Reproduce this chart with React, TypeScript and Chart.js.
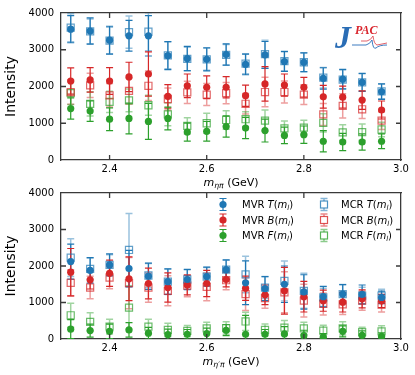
import React, { useEffect, useRef } from "react";
import { Chart, registerables } from "chart.js";

Chart.register(...registerables);

// ---------- data ----------
const massBins = [2.32, 2.36, 2.4, 2.44, 2.48, 2.52, 2.56, 2.6, 2.64, 2.68, 2.72, 2.76, 2.8, 2.84, 2.88, 2.92, 2.96];
const xTickValues = [2.4, 2.6, 2.8, 3.0];
const yTickValues = [0, 1000, 2000, 3000, 4000];
const xRange = [2.3, 3.0];
const yRange = [0, 4000];
const yTitle = "Intensity";

// top panel: eta pi
const topMVR_T = [3560, 3510, 3260, 3380, 3380, 2840, 2760, 2740, 2870, 2600, 2860, 2680, 2660, 2220, 2200, 2110, 1860];
const topMVR_T_err = [370, 355, 380, 420, 550, 380, 330, 315, 290, 280, 365, 267, 253, 290, 267, 245, 213];
const topMCR_T = [3600, 3500, 3250, 3480, 3490, 2850, 2750, 2740, 2860, 2620, 2880, 2690, 2660, 2240, 2190, 2110, 1870];
const topMCR_T_err = [380, 340, 360, 440, 520, 370, 320, 300, 280, 270, 380, 270, 260, 280, 260, 240, 200];
const topMVR_B = [2150, 2180, 2150, 2260, 2340, 1730, 2020, 1980, 1980, 1750, 2070, 2040, 1980, 1720, 1710, 1630, 1360];
const topMVR_B_err = [355, 333, 365, 400, 600, 320, 320, 311, 290, 290, 470, 300, 267, 310, 300, 250, 245];
const topMCR_B = [1850, 2030, 1760, 1880, 2020, 1660, 1840, 1780, 1820, 1530, 1850, 1850, 1780, 1240, 1470, 1380, 1070];
const topMCR_B_err = [330, 330, 320, 360, 400, 300, 300, 300, 290, 280, 400, 300, 270, 300, 330, 250, 240];
const topMVR_F = [1400, 1330, 1110, 1130, 1050, 1130, 760, 780, 910, 870, 800, 670, 690, 510, 490, 490, 510];
const topMVR_F_err = [290, 280, 310, 420, 490, 310, 245, 267, 290, 290, 310, 222, 235, 290, 235, 222, 200];
const topMCR_F = [1820, 1530, 1580, 1620, 1490, 1240, 930, 1000, 1090, 1110, 1070, 860, 880, 1010, 750, 760, 830];
const topMCR_F_err = [310, 330, 290, 310, 270, 310, 220, 270, 250, 200, 290, 200, 200, 250, 210, 220, 200];

// bottom panel: eta' pi
const botMVR_T = [2120, 1880, 2030, 1930, 1720, 1570, 1630, 1710, 1900, 1540, 1380, 1500, 1290, 1160, 1230, 1220, 1140];
const botMVR_T_err = [480, 350, 300, 500, 360, 350, 280, 260, 270, 600, 330, 500, 470, 280, 260, 260, 170];
const botMCR_T = [2230, 1920, 2030, 2440, 1740, 1570, 1630, 1710, 1900, 1770, 1410, 1590, 1320, 1140, 1230, 1190, 1190];
const botMCR_T_err = [520, 300, 280, 1000, 330, 350, 270, 250, 260, 500, 300, 550, 480, 250, 260, 230, 170];
const botMVR_B = [1830, 1620, 1800, 1650, 1520, 1410, 1480, 1520, 1630, 1390, 1210, 1320, 1160, 1050, 1010, 1100, 1040];
const botMVR_B_err = [650, 250, 360, 600, 420, 400, 270, 360, 200, 330, 270, 640, 420, 290, 270, 245, 180];
const botMCR_B = [1540, 1410, 1680, 1530, 1410, 1320, 1460, 1430, 1610, 1230, 1120, 1280, 1050, 960, 950, 1050, 940];
const botMCR_B_err = [360, 310, 300, 700, 400, 410, 300, 380, 260, 450, 280, 560, 450, 300, 280, 260, 200];
const botMVR_F = [270, 230, 210, 250, 160, 120, 130, 150, 240, 130, 130, 140, 90, 50, 210, 100, 70];
const botMVR_F_err = [260, 180, 200, 200, 160, 150, 130, 150, 150, 520, 130, 200, 150, 100, 150, 120, 100];
const botMCR_F = [650, 470, 340, 860, 340, 250, 220, 290, 300, 480, 250, 310, 290, 230, 290, 190, 210];
const botMCR_F_err = [330, 250, 200, 600, 200, 180, 150, 170, 170, 250, 160, 200, 170, 150, 180, 130, 150];

// ---------- style ----------
const FONT = '"DejaVu Sans", sans-serif';
const FRAME = "#3a3a3a";
const COLORS: Record<string, string> = { T: "31,119,180", B: "214,39,40", F: "44,160,44" };
const solid = (k: string) => `rgb(${COLORS[k]})`;
const faded = (k: string, a: number) => `rgba(${COLORS[k]},${a})`;

type Run = { t: string; it?: boolean; sub?: boolean };

function drawRuns(ctx: CanvasRenderingContext2D, runs: Run[], x: number, y: number, size: number, align: "left" | "center") {
  const fontFor = (r: Run) => `${r.it ? "italic " : ""}${r.sub ? size * 0.7 : size}px ${FONT}`;
  let total = 0;
  const widths = runs.map((r) => {
    ctx.font = fontFor(r);
    const w = ctx.measureText(r.t).width;
    total += w;
    return w;
  });
  let cx = align === "center" ? x - total / 2 : x;
  ctx.textAlign = "left";
  ctx.textBaseline = "alphabetic";
  runs.forEach((r, i) => {
    ctx.font = fontFor(r);
    ctx.fillText(r.t, cx, r.sub ? y + size * 0.22 : y);
    cx += widths[i];
  });
}

type Series = { kind: "MVR" | "MCR"; amp: "T" | "B" | "F"; values: number[]; errors: number[] };
type Panel = { series: Series[]; xSub: string; padTop: number; xAxisHeight: number; legend: boolean; logo: boolean };

const errorBarPlugin = {
  id: "errorBars",
  beforeDatasetsDraw(chart: any) {
    const { ctx, chartArea } = chart;
    const xs = chart.scales.x;
    const ys = chart.scales.y;
    ctx.save();
    ctx.beginPath();
    ctx.rect(chartArea.left, chartArea.top, chartArea.right - chartArea.left, chartArea.bottom - chartArea.top);
    ctx.clip();
    const order = chart.data.datasets
      .map((d: any, i: number) => ({ d, i }))
      .sort((a: any, b: any) => (a.d.kind === b.d.kind ? 0 : a.d.kind === "MCR" ? -1 : 1));
    order.forEach(({ d }: any) => {
      ctx.strokeStyle = d.errColor;
      ctx.lineWidth = d.kind === "MCR" ? 1.5 : 1.2;
      d.data.forEach((p: any, j: number) => {
        const e = d.errors[j];
        const px = xs.getPixelForValue(p.x);
        const yt = ys.getPixelForValue(p.y + e);
        const yb = ys.getPixelForValue(p.y - e);
        ctx.beginPath();
        ctx.moveTo(px, yt);
        ctx.lineTo(px, yb);
        ctx.moveTo(px - 3.5, yt);
        ctx.lineTo(px + 3.5, yt);
        ctx.moveTo(px - 3.5, yb);
        ctx.lineTo(px + 3.5, yb);
        ctx.stroke();
      });
    });
    ctx.restore();
  },
};

const framePlugin = {
  id: "frameDecor",
  afterDraw(chart: any, _args: any, opts: any) {
    const { ctx, chartArea: a } = chart;
    const xs = chart.scales.x;
    const ys = chart.scales.y;
    ctx.save();
    const l = a.left;
    const r = a.right;
    const t = a.top;
    const b = a.bottom;
    // inward tick marks on all four sides
    const L = 5;
    ctx.strokeStyle = FRAME;
    ctx.lineWidth = 1.3;
    ctx.beginPath();
    xTickValues.forEach((v) => {
      const px = xs.getPixelForValue(v);
      if (px <= l + 1 || px >= r - 1) return;
      ctx.moveTo(px, b);
      ctx.lineTo(px, b - L);
      ctx.moveTo(px, t);
      ctx.lineTo(px, t + L);
    });
    yTickValues.forEach((v) => {
      const py = ys.getPixelForValue(v);
      if (py <= t + 1 || py >= b - 1) return;
      ctx.moveTo(l, py);
      ctx.lineTo(l + L, py);
      ctx.moveTo(r, py);
      ctx.lineTo(r - L, py);
    });
    ctx.stroke();

    // axis titles
    ctx.fillStyle = "#000";
    drawRuns(ctx, [{ t: "m", it: true }, { t: opts.xSub, it: true, sub: true }, { t: " (GeV)" }], (l + r) / 2, b + 26, 11, "center");
    ctx.save();
    ctx.translate(11, (t + b) / 2);
    ctx.rotate(-Math.PI / 2);
    ctx.font = `14px ${FONT}`;
    ctx.textAlign = "center";
    ctx.textBaseline = "middle";
    ctx.fillText(yTitle, 0, 0);
    ctx.restore();

    if (opts.legend) {
      const rows = [t + 11.5, t + 27, t + 42.5];
      const cols = [
        { kind: "MVR", mx: r - 178, tx: r - 159 },
        { kind: "MCR", mx: r - 77, tx: r - 60 },
      ];
      const amps = ["T", "B", "F"];
      cols.forEach((c) => {
        amps.forEach((amp, ri) => {
          const y = rows[ri];
          ctx.strokeStyle = c.kind === "MVR" ? solid(amp) : faded(amp, 0.55);
          ctx.lineWidth = c.kind === "MVR" ? 1.2 : 1.5;
          ctx.beginPath();
          ctx.moveTo(c.mx, y - 6);
          ctx.lineTo(c.mx, y + 6);
          ctx.moveTo(c.mx - 3.5, y - 6);
          ctx.lineTo(c.mx + 3.5, y - 6);
          ctx.moveTo(c.mx - 3.5, y + 6);
          ctx.lineTo(c.mx + 3.5, y + 6);
          ctx.stroke();
          if (c.kind === "MVR") {
            ctx.fillStyle = solid(amp);
            ctx.beginPath();
            ctx.arc(c.mx, y, 3.6, 0, Math.PI * 2);
            ctx.fill();
          } else {
            ctx.fillStyle = "#fff";
            ctx.fillRect(c.mx - 3.5, y - 3.5, 7, 7);
            ctx.strokeStyle = faded(amp, 0.8);
            ctx.lineWidth = 1.2;
            ctx.strokeRect(c.mx - 3.5, y - 3.5, 7, 7);
          }
          ctx.fillStyle = "#000";
          drawRuns(ctx, [{ t: c.kind + " " }, { t: amp, it: true }, { t: "(" }, { t: "m", it: true }, { t: "l", it: true, sub: true }, { t: ")" }], c.tx, y + 3.5, 10, "left");
        });
      });
    }

    if (opts.logo) {
      ctx.fillStyle = "#2a6db5";
      ctx.font = 'italic bold 32px "Liberation Serif", serif';
      ctx.textAlign = "left";
      ctx.textBaseline = "alphabetic";
      ctx.fillText("J", r - 66, t + 35);
      ctx.fillStyle = "#d9262e";
      ctx.font = 'italic bold 12px "Liberation Serif", serif';
      ctx.fillText("PAC", r - 46, t + 21);
      ctx.lineWidth = 1;
      ctx.strokeStyle = "rgba(220,60,70,0.8)";
      ctx.beginPath();
      ctx.moveTo(r - 40, t + 28);
      ctx.lineTo(r - 34, t + 28);
      ctx.quadraticCurveTo(r - 30, t + 27, r - 28, t + 23);
      ctx.quadraticCurveTo(r - 27, t + 31, r - 24, t + 32);
      ctx.lineTo(r - 14, t + 30);
      ctx.stroke();
      ctx.strokeStyle = "rgba(40,110,185,0.9)";
      ctx.beginPath();
      ctx.moveTo(r - 49, t + 32);
      ctx.lineTo(r - 35, t + 32);
      ctx.quadraticCurveTo(r - 31, t + 31, r - 29, t + 27);
      ctx.quadraticCurveTo(r - 28, t + 37, r - 25, t + 35);
      ctx.quadraticCurveTo(r - 22, t + 32, r - 14, t + 32);
      ctx.stroke();
    }
    ctx.restore();
  },
};

function buildChart(canvas: HTMLCanvasElement, panel: Panel) {
  const mvr = panel.series.filter((s) => s.kind === "MVR");
  const mcr = panel.series.filter((s) => s.kind === "MCR");
  const datasets = [...mvr, ...mcr].map((s) => ({
    label: `${s.kind} ${s.amp}`,
    kind: s.kind,
    errors: s.errors,
    errColor: s.kind === "MVR" ? solid(s.amp) : faded(s.amp, 0.45),
    data: massBins.map((x, i) => ({ x, y: s.values[i] })),
    pointStyle: s.kind === "MVR" ? "circle" : "rect",
    pointRadius: s.kind === "MVR" ? 3.6 : 5,
    backgroundColor: s.kind === "MVR" ? solid(s.amp) : "rgba(0,0,0,0)",
    borderColor: s.kind === "MVR" ? solid(s.amp) : faded(s.amp, 0.7),
    borderWidth: s.kind === "MVR" ? 0 : 1.2,
    showLine: false,
  }));
  const tickFont = { family: FONT, size: 10 };
  const frameBorder = { display: true, color: FRAME, width: 1.3 };
  const noGrid = { display: false, drawTicks: false };
  return new Chart(canvas, {
    type: "scatter",
    data: { datasets } as any,
    plugins: [errorBarPlugin, framePlugin],
    options: {
      animation: false,
      responsive: false,
      events: [],
      layout: { padding: { top: panel.padTop, right: 14, left: 0, bottom: 0 } },
      plugins: {
        legend: { display: false },
        tooltip: { enabled: false },
        frameDecor: { xSub: panel.xSub, legend: panel.legend, logo: panel.logo },
      } as any,
      scales: {
        x: {
          type: "linear",
          position: "bottom",
          min: xRange[0],
          max: xRange[1],
          grid: noGrid,
          border: frameBorder,
          afterBuildTicks: (s: any) => {
            s.ticks = xTickValues.map((v) => ({ value: v }));
          },
          afterFit: (s: any) => {
            s.height = panel.xAxisHeight;
          },
          ticks: { padding: 3, font: tickFont, color: "#000", maxRotation: 0, autoSkip: false, callback: (v: any) => Number(v).toFixed(1) },
        },
        xTop: {
          type: "linear",
          position: "top",
          min: xRange[0],
          max: xRange[1],
          grid: noGrid,
          border: frameBorder,
          ticks: { display: false },
          afterFit: (s: any) => {
            s.height = 0;
          },
        },
        y: {
          type: "linear",
          position: "left",
          min: yRange[0],
          max: yRange[1],
          grid: noGrid,
          border: frameBorder,
          afterBuildTicks: (s: any) => {
            s.ticks = yTickValues.map((v) => ({ value: v }));
          },
          afterFit: (s: any) => {
            s.width = 61;
          },
          ticks: { padding: 7, font: tickFont, color: "#000", autoSkip: false, callback: (v: any) => String(v) },
        },
        yRight: {
          type: "linear",
          position: "right",
          min: yRange[0],
          max: yRange[1],
          grid: noGrid,
          border: frameBorder,
          ticks: { display: false },
          afterFit: (s: any) => {
            s.width = 0;
          },
        },
      },
    } as any,
  });
}

const topPanel: Panel = {
  series: [
    { kind: "MVR", amp: "T", values: topMVR_T, errors: topMVR_T_err },
    { kind: "MVR", amp: "B", values: topMVR_B, errors: topMVR_B_err },
    { kind: "MVR", amp: "F", values: topMVR_F, errors: topMVR_F_err },
    { kind: "MCR", amp: "T", values: topMCR_T, errors: topMCR_T_err },
    { kind: "MCR", amp: "B", values: topMCR_B, errors: topMCR_B_err },
    { kind: "MCR", amp: "F", values: topMCR_F, errors: topMCR_F_err },
  ],
  xSub: "ηπ",
  padTop: 10,
  xAxisHeight: 32,
  legend: false,
  logo: true,
};

const bottomPanel: Panel = {
  series: [
    { kind: "MVR", amp: "T", values: botMVR_T, errors: botMVR_T_err },
    { kind: "MVR", amp: "B", values: botMVR_B, errors: botMVR_B_err },
    { kind: "MVR", amp: "F", values: botMVR_F, errors: botMVR_F_err },
    { kind: "MCR", amp: "T", values: botMCR_T, errors: botMCR_T_err },
    { kind: "MCR", amp: "B", values: botMCR_B, errors: botMCR_B_err },
    { kind: "MCR", amp: "F", values: botMCR_F, errors: botMCR_F_err },
  ],
  xSub: "η′π",
  padTop: 10,
  xAxisHeight: 36,
  legend: true,
  logo: false,
};

export default function App() {
  const topRef = useRef<HTMLCanvasElement>(null);
  const botRef = useRef<HTMLCanvasElement>(null);
  useEffect(() => {
    const c1 = buildChart(topRef.current!, topPanel);
    const c2 = buildChart(botRef.current!, bottomPanel);
    return () => {
      c1.destroy();
      c2.destroy();
    };
  }, []);
  return (
    <div style={{ position: "fixed", left: 0, top: 0, width: 415, height: 375, background: "#fff" }}>
      <canvas ref={topRef} width={415} height={192} style={{ position: "absolute", left: 0, top: 0, width: 415, height: 192 }} />
      <canvas ref={botRef} width={415} height={195} style={{ position: "absolute", left: 0, top: 180, width: 415, height: 195 }} />
    </div>
  );
}
